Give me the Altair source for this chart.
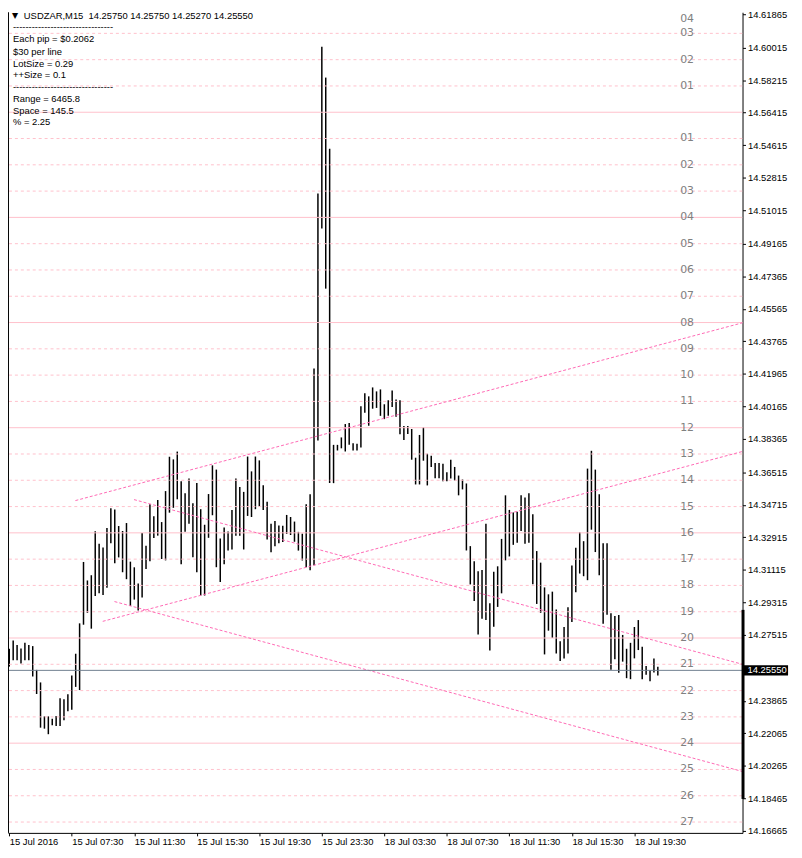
import altair as alt
import pandas as pd

# ---------------- data ----------------
symbol = "USDZAR,M15"
last_ohlc = [14.25750, 14.25750, 14.25270, 14.25550]   # O H L C of last bar

bar_high = [
    14.26745, 14.27200, 14.26948, 14.26762, 14.27074, 14.26948, 14.26893, 14.25578, 14.24883, 14.23003,
    14.23003, 14.22872, 14.23020, 14.24006, 14.23951, 14.24225, 14.25266, 14.26471, 14.28153, 14.31550,
    14.30526, 14.30816, 14.33249, 14.32553, 14.32350, 14.33430, 14.34525, 14.34454, 14.33539, 14.33265,
    14.33704, 14.31567, 14.31255, 14.30362, 14.33156, 14.32443, 14.34745, 14.34087, 14.34980, 14.33758,
    14.35473, 14.37374, 14.37227, 14.37659, 14.36016, 14.35353, 14.36169, 14.34799, 14.35917, 14.34471,
    14.33610, 14.35309, 14.36898, 14.36662, 14.32843, 14.33452, 14.33238, 14.34427, 14.36169, 14.35703,
    14.35429, 14.37385, 14.36564, 14.37385, 14.37172, 14.35802, 14.34882, 14.33665, 14.33824, 14.33567,
    14.33550, 14.34153, 14.34038, 14.33786, 14.33216, 14.33117, 14.34745, 14.35292, 14.42251, 14.51943,
    14.60063, 14.58359, 14.54425, 14.38032, 14.38032, 14.38443, 14.39183, 14.39237, 14.38125, 14.38087,
    14.40169, 14.40881, 14.40717, 14.41210, 14.40991, 14.41100, 14.40278, 14.40497, 14.41045, 14.40536,
    14.40497, 14.39073, 14.39073, 14.38909, 14.37320, 14.38580, 14.39002, 14.37539, 14.37429, 14.37029,
    14.37029, 14.36991, 14.36514, 14.37210, 14.36810, 14.36333, 14.36114, 14.35895, 14.32427, 14.31583,
    14.31035, 14.31112, 14.33665, 14.29266, 14.31003, 14.31309, 14.32827, 14.35238, 14.34432, 14.34290,
    14.34323, 14.35238, 14.35112, 14.35347, 14.34197, 14.32153, 14.31512, 14.30142, 14.29759, 14.29907,
    14.28920, 14.27167, 14.27951, 14.29047, 14.31348, 14.32334, 14.33194, 14.32701, 14.36717, 14.37703,
    14.36662, 14.35292, 14.32591, 14.32591, 14.28718, 14.28553, 14.28608, 14.27512, 14.26745, 14.27074,
    14.27951, 14.28334, 14.26855, 14.25798, 14.25556, 14.26214, 14.25750,
]
bar_low = [
    14.25759, 14.26104, 14.26104, 14.25924, 14.26104, 14.26104, 14.25211, 14.24242, 14.22379, 14.22324,
    14.22017, 14.22510, 14.22472, 14.22472, 14.22784, 14.23294, 14.23376, 14.24636, 14.24461, 14.28077,
    14.28734, 14.27858, 14.29666, 14.29814, 14.29720, 14.30126, 14.32591, 14.31474, 14.31802, 14.30981,
    14.30597, 14.29118, 14.29468, 14.28866, 14.29578, 14.31167, 14.31583, 14.32882, 14.33008, 14.31715,
    14.31638, 14.34279, 14.34547, 14.35019, 14.31419, 14.33216, 14.33665, 14.31808, 14.30986, 14.29693,
    14.29693, 14.32887, 14.34136, 14.31260, 14.30438, 14.31419, 14.32180, 14.32241, 14.33002, 14.33002,
    14.32241, 14.34098, 14.34038, 14.34471, 14.34624, 14.34427, 14.32789, 14.32082, 14.32416, 14.32591,
    14.32652, 14.33101, 14.33041, 14.32668, 14.32180, 14.31633, 14.31260, 14.31085, 14.31375, 14.38268,
    14.50003, 14.46678, 14.35917, 14.35912, 14.37720, 14.37840, 14.37665, 14.38032, 14.37720, 14.37720,
    14.37884, 14.39802, 14.39089, 14.40032, 14.40076, 14.39637, 14.39456, 14.39637, 14.40130, 14.39582,
    14.38618, 14.38306, 14.38635, 14.37210, 14.35840, 14.35840, 14.37155, 14.35786, 14.36810, 14.36186,
    14.36186, 14.36021, 14.36021, 14.36169, 14.36060, 14.35238, 14.35566, 14.32186, 14.30307, 14.29392,
    14.27529, 14.28406, 14.28334, 14.26652, 14.27967, 14.29063, 14.29814, 14.31638, 14.31857, 14.32498,
    14.32608, 14.33265, 14.32553, 14.32608, 14.30323, 14.29227, 14.28734, 14.26433, 14.27748, 14.27348,
    14.26488, 14.26072, 14.26214, 14.26488, 14.28225, 14.29868, 14.30909, 14.30761, 14.30542, 14.33337,
    14.32098, 14.30816, 14.28132, 14.28625, 14.25578, 14.26159, 14.25414, 14.26033, 14.25118, 14.25063,
    14.26214, 14.26674, 14.25063, 14.25304, 14.24954, 14.25430, 14.25270,
]

time_tick_bars = [0, 16, 32, 48, 64, 80, 96, 112, 128, 144, 160]
time_tick_labels = ["15 Jul 2016", "15 Jul 07:30", "15 Jul 11:30", "15 Jul 15:30",
                    "15 Jul 19:30", "15 Jul 23:30", "18 Jul 03:30", "18 Jul 07:30",
                    "18 Jul 11:30", "18 Jul 15:30", "18 Jul 19:30"]

price_ticks = [14.61865, 14.60015, 14.58215, 14.56415, 14.54615, 14.52815, 14.51015,
               14.49165, 14.47365, 14.45565, 14.43765, 14.41965, 14.40165, 14.38365,
               14.36515, 14.34715, 14.32915, 14.31115, 14.29315, 14.27515, 14.23865,
               14.22065, 14.20265, 14.18465, 14.16665]
current_price = 14.25550

level_prices = [14.62261, 14.60806, 14.59351, 14.57896, 14.56441, 14.54986, 14.53531, 14.52076,
                14.50621, 14.49166, 14.47711, 14.46256, 14.44801, 14.43346, 14.41891, 14.40436,
                14.38981, 14.37526, 14.36071, 14.34616, 14.33161, 14.31706, 14.30251, 14.28796,
                14.27341, 14.25886, 14.24431, 14.22976, 14.21521, 14.20066, 14.18611, 14.17156]
level_labels = ["04", "03", "02", "01", "", "01", "02", "03", "04", "05", "06", "07", "08",
                "09", "10", "11", "12", "13", "14", "15", "16", "17", "18", "19", "20", "21",
                "22", "23", "24", "25", "26", "27"]
level_solid = [True, False, False, False, True, False, False, False, True, False, False, False,
               True, False, False, False, True, False, False, False, True, False, False, False,
               True, False, False, False, True, False, False, False]

trend_start_bar = [16.925, 23.925, 31.925, 26.925]
trend_start_price = [14.34947, 14.28263, 14.35002, 14.29359]
trend_end_bar = [187.675, 187.675, 187.675, 187.675]
trend_end_price = [14.44787, 14.37665, 14.25885, 14.19952]

range_marker = [14.28899, 14.18434]

info_lines = ["-" * 32, "Each pip = $0.2062", "$30 per line", "LotSize = 0.29",
              "++Size = 0.1", "-" * 32, "Range = 6465.8", "Space = 145.5", "% = 2.25"]

# ---------------- layout / style ----------------
W, H = 742, 829
FONT = "Liberation Sans"
FS = 9.5
Y_TOP, Y_BOT = 14.61975, 14.16555
y_scale = alt.Scale(domain=[Y_BOT, Y_TOP], nice=False, zero=False)
x_scale = alt.Scale(domain=[-0.325, 187.675], nice=False, zero=False)

labels_js = "[" + ",".join("'" + s + "'" for s in time_tick_labels) + "]"
ticks_js = "[" + ",".join(str(v) for v in time_tick_bars) + "]"

x_axis = alt.Axis(values=time_tick_bars,
                  labelExpr=labels_js + "[indexof(" + ticks_js + ", datum.value)]",
                  labelAlign="left", labelPadding=1, tickSize=3, grid=False, title=None,
                  labelOverlap=False, labelBound=False, labelFlush=False)
y_axis = alt.Axis(orient="right", values=price_ticks, format=".5f", tickSize=3, title=None,
                  labelPadding=2, grid=False, labelOverlap=False, labelBound=False,
                  labelFlush=False)


def Y(field):
    return alt.Y(field, scale=y_scale, axis=y_axis, title=None)


def X(field):
    return alt.X(field, scale=x_scale, axis=x_axis, title=None)


bars_df = pd.DataFrame({"bar": list(range(len(bar_high))), "high": bar_high, "low": bar_low})
levels_df = pd.DataFrame({"price": level_prices, "label": level_labels, "solid": level_solid})
trend_df = pd.DataFrame({"b0": trend_start_bar, "p0": trend_start_price,
                         "b1": trend_end_bar, "p1": trend_end_price})
cur_df = pd.DataFrame({"price": [current_price]})
range_df = pd.DataFrame({"hi": [range_marker[0]], "lo": [range_marker[1]]})
one = pd.DataFrame({"a": [0]})

bars = alt.Chart(bars_df).mark_rule(color="black", strokeWidth=1.5).encode(
    x=X("bar:Q"), y=Y("high:Q"), y2="low:Q")

solid_levels = alt.Chart(levels_df).transform_filter("datum.solid").mark_rule(
    color="#FFC0CB", strokeWidth=1, clip=True).encode(y=Y("price:Q"))
dashed_levels = alt.Chart(levels_df).transform_filter("!datum.solid").mark_rule(
    color="#FFC0CB", strokeWidth=1, strokeDash=[3, 3], clip=True).encode(y=Y("price:Q"))
# labels sit on their lines; the topmost one is kept just inside the top edge
level_text = alt.Chart(levels_df).transform_filter("datum.label != ''").transform_calculate(
    ly="min(datum.price, %.5f)" % (Y_TOP - 0.0037)).mark_text(
    font="DejaVu Sans", fontSize=11, color="#808080", align="center", baseline="middle").encode(
    x=alt.value(W - 56), y=Y("ly:Q"), text="label:N")

trends = alt.Chart(trend_df).mark_rule(color="#FF69B4", strokeWidth=1, strokeDash=[3, 2]).encode(
    x=X("b0:Q"), x2="b1:Q", y=Y("p0:Q"), y2="p1:Q")

cur_line = alt.Chart(cur_df).mark_rule(color="#708090", strokeWidth=1).encode(y=Y("price:Q"))

left_border = alt.Chart(one).mark_rule(color="black", strokeWidth=1).encode(
    x=alt.value(0.5), y=alt.value(0), y2=alt.value(H))

range_bar = alt.Chart(range_df).mark_rule(color="black", strokeWidth=3).encode(
    x=alt.value(W + 0.5), y=Y("hi:Q"), y2="lo:Q")

price_box = alt.Chart(cur_df).transform_calculate(
    top="datum.price + 0.0028", bot="datum.price - 0.0028").mark_rect(color="black").encode(
    x=alt.value(W + 1), x2=alt.value(W + 46), y=Y("top:Q"), y2="bot:Q")
price_txt = alt.Chart(cur_df).transform_calculate(
    lab="format(datum.price, '.5f')").mark_text(
    align="left", baseline="middle", color="white", font=FONT, fontSize=FS).encode(
    x=alt.value(W + 5), y=Y("price:Q"), text="lab:N")

title_str = symbol + "\u00a0 " + " ".join("%.5f" % v for v in last_ohlc)
tri = alt.Chart(one).mark_text(font="DejaVu Sans", fontSize=8, color="black",
                               align="center", baseline="middle").encode(
    x=alt.value(7), y=alt.value(3.5), text=alt.value("\u25bc"))
title_txt = alt.Chart(one).mark_text(font=FONT, fontSize=FS, color="black",
                                     align="left", baseline="middle").encode(
    x=alt.value(16), y=alt.value(3.5), text=alt.value(title_str))

info_y = [15.3, 27, 39.7, 52, 63.7, 75.3, 88, 100, 111.3]
info_layers = []
for txt, yy in zip(info_lines, info_y):
    info_layers.append(alt.Chart(one).mark_text(font=FONT, fontSize=FS, color="black",
                                                align="left", baseline="middle").encode(
        x=alt.value(5), y=alt.value(yy), text=alt.value(txt)))

chart = alt.layer(
    bars, solid_levels, dashed_levels, level_text, trends, cur_line, left_border,
    range_bar, price_box, price_txt, tri, title_txt, *info_layers
).properties(
    width=W, height=H,
    autosize=alt.AutoSizeParams(type="none"),
    padding={"left": 0, "top": 0, "right": 52, "bottom": 14},
    background="white",
).configure_view(stroke=None).configure_axis(
    labelFont=FONT, labelFontSize=FS, labelColor="black", domainColor="black",
    tickColor="black", domainWidth=1, tickWidth=1,
)

chart.save("out.html", embed_options={"renderer": "svg", "actions": False})
